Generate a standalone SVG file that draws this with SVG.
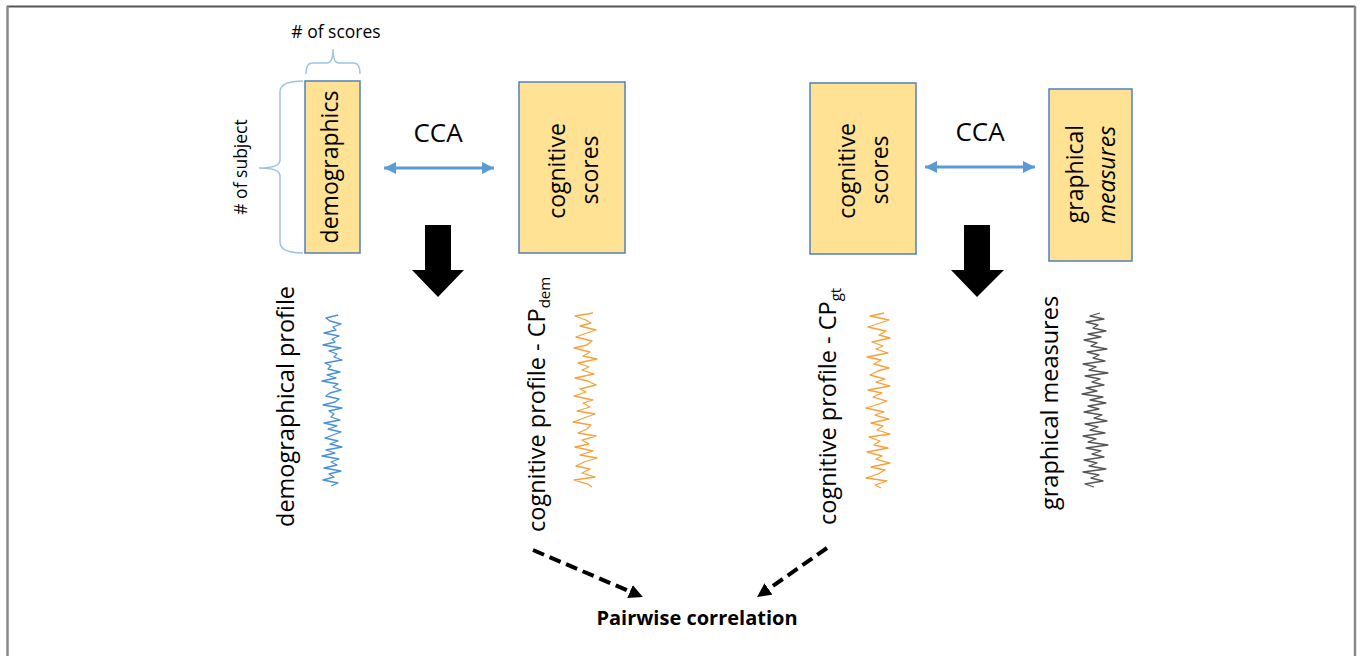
<svg xmlns="http://www.w3.org/2000/svg" width="1360" height="656" viewBox="0 0 1360 656">
<style>
text{font-family:"Open Sans","Noto Sans","Liberation Sans",sans-serif;fill:#000}
.box{fill:#FFE293;stroke:#4F81BD;stroke-width:1.5}
.lbl{font-size:23px;text-anchor:middle}
.bl{font-size:23.5px}
.brace{fill:none;stroke:#9DC3E6;stroke-width:1.5}
.cca{stroke:#5B9BD5;stroke-width:3;marker-start:url(#ba);marker-end:url(#ba)}
.dash{stroke:#000;stroke-width:4;stroke-dasharray:12 6;marker-end:url(#bk);fill:none}
.sig{fill:none;stroke-width:1.3;stroke-linejoin:round}
</style>
<defs>
<marker id="ba" viewBox="0 0 10 10" refX="10" refY="5" markerWidth="4" markerHeight="4.2" orient="auto-start-reverse"><path d="M0,0 L10,5 L0,10 z" fill="#5B9BD5"/></marker>
<marker id="bk" viewBox="0 0 10 10" refX="0" refY="5" markerWidth="14" markerHeight="14" markerUnits="userSpaceOnUse" orient="auto"><path d="M0,0 L10,5 L0,10 z" fill="#000"/></marker>
</defs>

<g id="frame">
<line x1="7" y1="6.5" x2="1355" y2="6.5" stroke="#555" stroke-width="2"/>
<line x1="7.5" y1="6" x2="7.5" y2="656" stroke="#888" stroke-width="2.5"/>
<line x1="1355" y1="6" x2="1355" y2="656" stroke="#888" stroke-width="2.5"/>
</g>

<g id="braces">
<path class="brace" d="M306,74 Q306,63 312,63 L327,63 Q333,63 333,49 Q333,63 339,63 L354,63 Q360,63 360,74"/>
<text x="336" y="38" font-size="17.5" text-anchor="middle"># of scores</text>
<path class="brace" d="M303,81 Q280,81 280,92 L280,160 Q280,168 259,168 Q280,168 280,176 L280,242 Q280,253 303,253"/>
<text transform="translate(247,167) rotate(-90)" font-size="17.5" text-anchor="middle"># of subject</text>
</g>

<g id="node-demographics">
<rect class="box" x="305" y="81" width="55" height="172"/>
<text class="lbl" transform="translate(338,167) rotate(-90)">demographics</text>
</g>

<g id="node-cognitive-scores-1">
<rect class="box" x="519" y="82" width="106" height="171"/>
<text class="lbl" transform="translate(565,171) rotate(-90)">cognitive</text>
<text class="lbl" transform="translate(598,170) rotate(-90)">scores</text>
</g>

<g id="node-cognitive-scores-2">
<rect class="box" x="810" y="83" width="106" height="171"/>
<text class="lbl" transform="translate(855,171) rotate(-90)">cognitive</text>
<text class="lbl" transform="translate(888,170) rotate(-90)">scores</text>
</g>

<g id="node-graphical-measures">
<rect class="box" x="1049" y="89" width="83" height="172"/>
<text class="lbl" transform="translate(1083,174) rotate(-90)">graphical</text>
<text class="lbl" transform="translate(1115,175) rotate(-90)" font-style="italic">measures</text>
</g>

<g id="cca-labels">
<text x="438" y="142" font-size="26" text-anchor="middle">CCA</text>
<text x="980" y="141" font-size="26" text-anchor="middle">CCA</text>
</g>

<g id="connectors">
<line class="cca" x1="384" y1="168" x2="494" y2="168"/>
<line class="cca" x1="925" y1="167" x2="1035" y2="167"/>
<polygon points="425,225 451,225 451,270 464,270 438,297 412,270 425,270" fill="#000"/>
<polygon points="964,225 990,225 990,270 1004,270 977,297 951,270 964,270" fill="#000"/>
<line class="dash" x1="533" y1="550" x2="630" y2="591.5"/>
<line class="dash" x1="827" y1="548" x2="768.5" y2="589"/>
</g>

<g id="profile-demographical">
<text class="bl" transform="translate(294,527) rotate(-90)">demographical profile</text>
<polyline class="sig" stroke="#4A90D9" points="338,315 326,318 330,321 341,324 333,327 336,330 324,333 339,336 332,339 335,342 323,345 341,348 329,351 337,354 334,357 342,360 325,363 331,366 328,369 340,372 327,375 336,378 322,381 338,384 333,387 341,390 330,393 326,396 339,399 335,402 323,405 342,408 329,411 334,414 331,417 340,420 324,423 337,426 328,429 341,432 333,435 325,438 338,441 330,444 342,447 326,450 335,453 322,456 339,459 331,462 337,465 324,468 341,471 329,474 334,477 323,480 338,483 331,486"/>
</g>

<g id="profile-cp-dem">
<text class="bl" transform="translate(545,532) rotate(-90)">cognitive profile - CP<tspan font-size="15" dy="5">dem</tspan></text>
<polyline class="sig" stroke="#F9A13A" points="593,313 575,316 586,320 591,323 580,326 596,330 584,334 576,337 592,341 587,345 574,348 590,352 583,356 597,359 578,363 589,367 582,370 594,374 575,378 588,381 596,385 580,389 586,392 574,396 593,400 583,403 590,407 577,411 595,414 584,418 573,422 591,425 587,429 578,433 596,436 582,440 589,444 575,447 593,451 580,455 597,458 584,462 576,466 590,469 582,473 595,477 574,480 588,484 592,487"/>
</g>

<g id="profile-cp-gt">
<text class="bl" transform="translate(836,525) rotate(-90)">cognitive profile - CP<tspan font-size="15" dy="5">gt</tspan></text>
<polyline class="sig" stroke="#F9A13A" points="884,313 870,316 889,320 877,324 868,327 886,331 879,335 890,338 872,342 883,346 876,349 888,353 867,357 881,360 874,364 889,368 878,371 870,375 885,379 876,382 890,386 868,390 882,393 873,397 887,401 879,404 866,408 884,412 875,415 889,419 871,423 883,426 877,430 890,434 869,437 880,441 874,445 888,448 867,452 882,456 876,459 890,463 871,467 885,470 878,474 866,478 887,481 875,485 881,488"/>
</g>

<g id="profile-graphical">
<text class="bl" transform="translate(1058,510) rotate(-90)">graphical measures</text>
<polyline class="sig" stroke="#555" stroke-width="1.1" points="1100,313 1090,316 1104,319 1086,322 1098,325 1093,328 1106,331 1088,334 1101,337 1084,340 1097,343 1091,346 1107,349 1087,352 1099,355 1093,358 1105,361 1083,364 1096,367 1089,370 1108,373 1085,376 1100,379 1092,382 1104,385 1086,388 1097,391 1082,394 1103,397 1090,400 1106,403 1088,406 1099,409 1084,412 1102,415 1094,418 1107,421 1085,424 1098,427 1090,430 1105,433 1083,436 1096,439 1088,442 1108,445 1086,448 1101,451 1092,454 1104,457 1084,460 1097,463 1089,466 1106,469 1083,472 1099,475 1091,478 1103,481 1085,484 1094,487"/>
</g>

<g id="node-pairwise">
<text x="697" y="625" font-size="20" font-weight="bold" text-anchor="middle">Pairwise correlation</text>
</g>
</svg>
